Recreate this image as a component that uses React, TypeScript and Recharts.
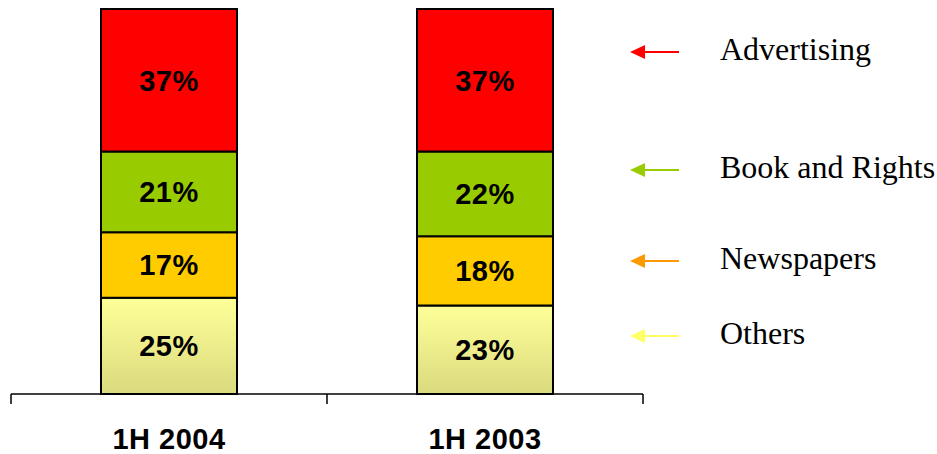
import { Bar, BarChart, LabelList, XAxis, YAxis } from "recharts";

const PERIODS = ["1H 2004", "1H 2003"];
const OTHERS = [25, 23];
const NEWSPAPERS = [17, 18];
const BOOK_RIGHTS = [21, 22];
const ADVERTISING = [37, 37];
// category boundaries, as a fraction of the axis
const BOUNDARY_TICKS = [0, 0.5, 1];

// stacked bottom -> top
const SERIES = [
  { key: "others", name: "Others", values: OTHERS, fill: "url(#othersFill)", arrow: "#FFFF66", legendY: 336 },
  { key: "newspapers", name: "Newspapers", values: NEWSPAPERS, fill: "#FFCC00", arrow: "#FF9900", legendY: 261 },
  { key: "book", name: "Book and Rights", values: BOOK_RIGHTS, fill: "#99CC00", arrow: "#99CC00", legendY: 170 },
  { key: "advertising", name: "Advertising", values: ADVERTISING, fill: "#FF0000", arrow: "#FF0000", legendY: 52 },
];

const chartData = PERIODS.map((period, i) => {
  const row: Record<string, string | number> = { period };
  SERIES.forEach((s) => (row[s.key] = s.values[i]));
  return row;
});

const W = 937;
const H = 454;
const SANS = '"Liberation Sans", Arial, sans-serif';

function Legend() {
  return (
    <svg width={W} height={H} style={{ position: "absolute", left: 0, top: 0, pointerEvents: "none" }}>
      {SERIES.map((s) => (
        <g key={s.key}>
          <line x1={642} x2={679} y1={s.legendY} y2={s.legendY} stroke={s.arrow} strokeWidth={2} />
          <polygon
            points={`630,${s.legendY} 645,${s.legendY - 7} 645,${s.legendY + 7}`}
            fill={s.arrow}
          />
          <text
            x={720}
            y={s.legendY + 8}
            fontSize={32}
            fontFamily='"Liberation Serif", "Times New Roman", serif'
            fill="#000"
          >
            {s.name}
          </text>
        </g>
      ))}
    </svg>
  );
}

export default function App() {
  return (
    <div style={{ position: "absolute", left: 0, top: 0, width: W, height: H, background: "#fff", overflow: "hidden" }}>
      <BarChart
        width={W}
        height={H}
        data={chartData}
        margin={{ top: 9, right: 294, left: 11, bottom: 0 }}
        barCategoryGap={0}
      >
        <defs>
          <linearGradient id="othersFill" x1="0" y1="0" x2="0" y2="1">
            <stop offset="0%" stopColor="#FFFF99" />
            <stop offset="100%" stopColor="#DADA7E" />
          </linearGradient>
        </defs>
        {/* plain axis line with ticks at the category boundaries */}
        <XAxis
          xAxisId="base"
          type="number"
          scale="linear"
          domain={[0, 1]}
          allowDataOverflow
          ticks={BOUNDARY_TICKS}
          interval={0}
          minTickGap={0}
          height={1}
          tickSize={10}
          tickFormatter={() => ""}
          axisLine={{ stroke: "#000", strokeWidth: 1.5 }}
          tickLine={{ stroke: "#000", strokeWidth: 1.5 }}
        />
        <XAxis
          xAxisId="labels"
          dataKey="period"
          height={59}
          axisLine={false}
          tickLine={false}
          tickSize={0}
          tickMargin={33}
          tick={{ fill: "#000", fontSize: 29, fontWeight: "bold", fontFamily: SANS, letterSpacing: 0.5 }}
        />
        <YAxis hide domain={[0, 100]} width={0} />
        {SERIES.map((s) => (
          <Bar
            key={s.key}
            xAxisId="labels"
            dataKey={s.key}
            name={s.name}
            stackId="a"
            barSize={136}
            fill={s.fill}
            stroke="#000"
            strokeWidth={2}
            isAnimationActive={false}
          >
            <LabelList
              dataKey={s.key}
              position="center"
              formatter={(v: number) => `${v}%`}
              fill="#000"
              fontSize={29}
              fontWeight="bold"
              fontFamily={SANS}
              letterSpacing={0.5}
            />
          </Bar>
        ))}
      </BarChart>
      <Legend />
    </div>
  );
}
